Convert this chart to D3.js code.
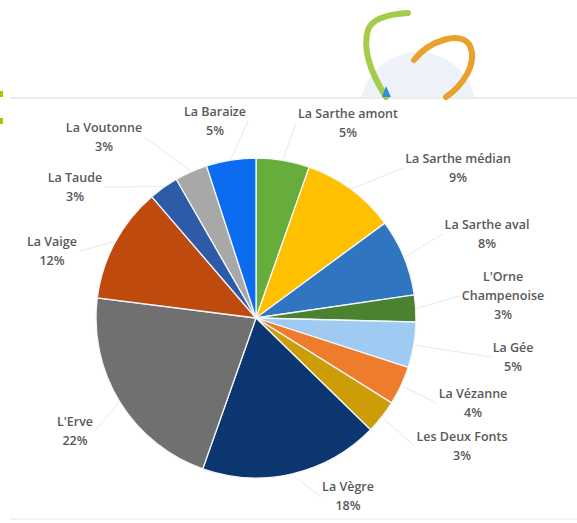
<!DOCTYPE html>
<html>
<head>
<meta charset="utf-8">
<script src="https://cdn.jsdelivr.net/npm/d3@7"></script>
<style>
  body { margin: 0; background: #fff; }
  svg { display: block; }
</style>
</head>
<body>
<svg id="chart" width="577" height="523"></svg>
<script>
// Répartition par sous-bassin (camembert)

var regions = ['La Sarthe amont', 'La Sarthe médian', 'La Sarthe aval', "L'Orne\nChampenoise",
	'La Gée', 'La Vézanne', 'Les Deux Fonts', 'La Vègre', "L'Erve", 'La Vaige',
	'La Taude', 'La Voutonne', 'La Baraize']
// shares
var shares = [5.4, 9.5, 7.8, 2.7, 4.6, 3.9, 3.4, 18.1, 21.6, 11.7, 3.0, 3.3, 5.0]
// printed percentages
var pctLabels = ['5%', '9%', '8%', '3%', '5%', '4%', '3%', '18%', '22%', '12%', '3%', '3%', '5%']
var colors = ['#66ad3c', '#ffc000', '#2f75bf', '#4a8230', '#9fcbf2', '#ef7b2c', '#cc9d06',
	'#0c3670', '#707070', '#bf4a0e', '#2e5ba8', '#a8a8a8', '#0b6cf0']

// label block offsets from the pie centre (layout only)
var labelOffset = [[92, -195], [202, -150], [231, -84], [247, -22], [257, 39], [217, 85],
	[206, 128], [92, 178], [-181, 113], [-204, -67], [-181, -131], [-152, -181], [-41, -197]]

var svg = d3.select('#chart'),
	cx = 256, cy = 318, radius = 160,
	lineH = 19

// frame + header decoration
svg.append('line').attr('x1', 10).attr('x2', 577).attr('y1', 98).attr('y2', 98)
	.attr('stroke', '#e6e6e6').attr('stroke-width', 1.5)
svg.append('line').attr('x1', 10).attr('x2', 577).attr('y1', 519).attr('y2', 519)
	.attr('stroke', '#f0f0f0').attr('stroke-width', 1.5)
svg.append('rect').attr('x', 0).attr('y', 91).attr('width', 3).attr('height', 6).attr('fill', '#99d100')
svg.append('rect').attr('x', 0).attr('y', 118).attr('width', 3).attr('height', 6).attr('fill', '#99d100')

var logo = svg.append('g')
logo.append('clipPath').attr('id', 'top').append('rect').attr('width', 577).attr('height', 97)
logo.append('circle').attr('cx', 418).attr('cy', 110).attr('r', 58)
	.attr('fill', '#edf3f9').attr('clip-path', 'url(#top)')
logo.append('path').attr('d', 'M408,13 C390,14 372,18 368,30 C362,50 372,75 386,97')
	.attr('fill', 'none').attr('stroke', '#a4cc4a').attr('stroke-width', 6).attr('stroke-linecap', 'round')
logo.append('path').attr('d', 'M414,60 C430,40 462,30 470,46 C478,64 462,86 446,97')
	.attr('fill', 'none').attr('stroke', '#e9a12c').attr('stroke-width', 6).attr('stroke-linecap', 'round')
logo.append('path').attr('d', 'M382,97 L386,86 L391,97 Z').attr('fill', '#2f8fe0')

// pie
var pie = d3.pie().sort(null).value(function(d) { return d })
var arcs = pie(shares)
var arc = d3.arc().innerRadius(0).outerRadius(radius)

var g = svg.append('g').attr('transform', 'translate(' + cx + ',' + cy + ')')

g.selectAll('path.slice').data(arcs)
	.enter().append('path').attr('class', 'slice')
	.attr('d', arc)
	.attr('fill', function(d, i) { return colors[i] })
	.attr('stroke', '#f4f8fc').attr('stroke-width', 1.3)

// labels
var labels = g.selectAll('g.lab').data(arcs)
	.enter().append('g').attr('class', 'lab')
	.attr('transform', function(d, i) { return 'translate(' + labelOffset[i][0] + ',' + labelOffset[i][1] + ')' })

labels.each(function(d, i) {
	var lines = regions[i].split('\n').concat([pctLabels[i]])
	var top = -(lines.length - 1) * lineH / 2
	d3.select(this).selectAll('text').data(lines)
		.enter().append('text')
		.attr('x', 0).attr('y', function(t, k) { return top + k * lineH })
		.attr('dy', '0.35em')
		.attr('text-anchor', 'middle')
		.attr('font-family', '"Open Sans", sans-serif')
		.attr('font-size', '12.5px').attr('font-weight', 600)
		.attr('fill', '#595959')
		.text(function(t) { return t })
})

// leader lines (very faint in the original)
g.selectAll('line.leader').data(arcs)
	.enter().append('line').attr('class', 'leader')
	.each(function(d, i) {
		var mid = (d.startAngle + d.endAngle) / 2
		var p = [Math.sin(mid) * (radius + 1), -Math.cos(mid) * (radius + 1)]
		var bb = labels.nodes()[i].getBBox()
		var o = labelOffset[i]
		var lx = o[0] + (o[0] > 0 ? bb.x - 2 : bb.x + bb.width + 2)
		var ly = o[1]
		var dist = Math.hypot(lx - p[0], ly - p[1])
		d3.select(this)
			.attr('x1', p[0]).attr('y1', p[1]).attr('x2', lx).attr('y2', ly)
			.attr('stroke', dist > 18 ? '#e9e9e9' : 'none').attr('stroke-width', 1)
	})
</script>
</body>
</html>
